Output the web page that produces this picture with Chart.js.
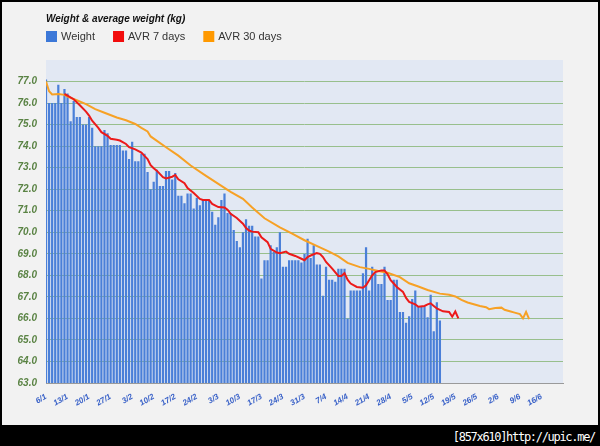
<!DOCTYPE html>
<html>
<head>
<meta charset="utf-8">
<title>Weight & average weight</title>
<script src="https://cdn.jsdelivr.net/npm/chart.js@4.4.0/dist/chart.umd.min.js"></script>
<style>
    html, body { margin: 0; padding: 0; background: #000; }
    body { width: 600px; height: 446px; position: relative; overflow: hidden; }
    #panel { position: absolute; left: 2px; top: 2px; width: 596px; height: 423px; background: #f2f2f2; }
    #stamp { position: absolute; right: 5px; bottom: 2px; color: #fff; font: 12px 'DejaVu Sans Mono', monospace; letter-spacing: -1.3px; }
</style>
</head>
<body>
<div id="panel"><canvas id="canvasSingle" width="596" height="423"></canvas></div>
<div id="stamp">[857x610]http://upic.me/</div>
<script>
// weekly tick labels, one every 7 days starting on 6/1
const tickLabels = ['6/1', '13/1', '20/1', '27/1', '3/2', '10/2', '17/2', '24/2', '3/3', '10/3', '17/3', '24/3',
    '31/3', '7/4', '14/4', '21/4', '28/4', '5/5', '12/5', '19/5', '26/5', '2/6', '9/6', '16/6'];

// daily weight, day 0 = 6/1
const weight = [
    77.1, 76.0, 76.0, 76.0, 76.85, 76.0, 76.65, 76.45, 75.15, 76.1,
    75.35, 75.35, 75.0, 75.0, 75.35, 74.85, 74.0, 74.0, 74.0, 74.75,
    74.6, 74.05, 74.05, 74.05, 74.05, 73.8, 73.8, 73.4, 74.2, 73.3,
    73.3, 73.65, 73.65, 72.8, 72.0, 72.35, 72.9, 72.15, 72.15, 72.85,
    72.85, 72.45, 72.75, 71.7, 71.7, 71.35, 71.8, 71.8, 71.1, 71.6,
    71.25, 71.5, 71.5, 71.5, 70.95, 70.35, 70.7, 71.5, 71.8, 70.9,
    70.9, 70.1, 69.6, 69.3, 70.0, 70.6, 70.3, 70.3, 69.8, 69.8,
    67.85, 68.7, 68.7, 69.4, 69.1, 69.3, 70.0, 68.4, 68.4, 68.7,
    68.7, 68.7, 68.7, 68.6, 69.0, 69.7, 68.8, 69.4, 68.5, 68.5,
    67.05, 68.4, 67.8, 67.8, 67.7, 68.3, 68.3, 68.3, 66.0, 67.3,
    67.3, 67.3, 67.3, 68.1, 69.3, 67.3, 68.4, 68.1, 67.6, 67.6,
    68.4, 66.85, 66.85, 67.8, 67.8, 66.3, 66.3, 65.8, 66.1, 66.9,
    67.3, 66.55, 66.55, 66.55, 66.05, 67.1, 65.4, 66.75, 65.9
];

// AVR 7 days (day, kg)
const avr7Days = [6, 7, 9, 11, 13, 14, 15, 17, 18, 20, 21, 23, 24, 26, 27, 29, 31, 32, 33, 34, 35, 36, 38, 39,
    41, 42, 43, 45, 46, 48, 50, 51, 53, 54, 56, 58, 59, 60, 62, 64, 65, 66, 67, 69, 70, 72, 73, 75, 76, 78, 79,
    81, 83, 84, 85, 86, 88, 89, 90, 91, 93, 95, 96, 97, 98, 99, 101, 103, 104, 105, 106, 107, 109, 110, 111,
    112, 113, 114, 116, 117, 118, 120, 121, 123, 124, 125, 126, 127, 129, 131, 132, 133, 134];
const avr7 = [76.42, 76.35, 76.18, 75.9, 75.6, 75.42, 75.18, 74.85, 74.65, 74.48, 74.34, 74.3, 74.26, 74.1, 73.95,
    73.85, 73.7, 73.55, 73.4, 73.12, 72.97, 72.86, 72.56, 72.5, 72.58, 72.66, 72.46, 72.28, 72.05, 71.82, 71.55,
    71.5, 71.5, 71.32, 71.17, 71.15, 71.05, 70.86, 70.66, 70.4, 70.2, 70.08, 70.03, 70.0, 69.77, 69.54, 69.23,
    69.06, 69.03, 69.1, 69.0, 68.9, 68.77, 68.7, 68.85, 68.92, 69.03, 69.0, 68.85, 68.62, 68.31, 67.97, 67.97,
    68.1, 67.8, 67.62, 67.46, 67.42, 67.54, 67.77, 68.0, 68.15, 68.23, 68.23, 68.05, 67.77, 67.62, 67.46, 67.23,
    66.95, 66.77, 66.65, 66.54, 66.58, 66.65, 66.7, 66.58, 66.46, 66.33, 66.3, 66.08, 66.32, 66.0];

// AVR 30 days (day, kg)
const avr30Days = [0, 1, 2, 4, 6, 7, 10, 13, 16, 19, 23, 26, 29, 31, 33, 34, 39, 43, 47, 52, 56, 60, 64, 67, 71,
    76, 80, 84, 89, 92, 95, 98, 102, 105, 108, 111, 115, 118, 121, 124, 128, 131, 133, 135, 137, 139, 141, 143,
    144, 146, 148, 149, 151, 152, 154, 155, 156, 157];
const avr30 = [77.0, 76.55, 76.4, 76.42, 76.38, 76.3, 76.13, 75.95, 75.72, 75.55, 75.33, 75.2, 75.03, 74.85, 74.68,
    74.45, 73.95, 73.56, 73.1, 72.62, 72.25, 71.88, 71.55, 71.15, 70.65, 70.23, 69.94, 69.63, 69.3, 69.1, 68.88,
    68.58, 68.38, 68.3, 68.2, 68.12, 67.92, 67.63, 67.48, 67.32, 67.15, 67.1, 67.02, 66.86, 66.74, 66.66, 66.58,
    66.52, 66.43, 66.48, 66.5, 66.4, 66.32, 66.28, 66.2, 66.0, 66.3, 65.97];

const chartTitle = 'Weight & average weight (kg)';

// plot background + title and legend laid out like the original
const headerPlugin = {
    id: 'header',
    beforeDraw(chart) {
        const {ctx, chartArea} = chart;
        ctx.save();
        ctx.fillStyle = '#e2e8f3';
        ctx.fillRect(chartArea.left, chartArea.top, chartArea.right - chartArea.left, chartArea.bottom - chartArea.top);
        ctx.restore();
    },
    afterDraw(chart) {
        const ctx = chart.ctx;
        const left = chart.chartArea.left;
        ctx.save();
        ctx.fillStyle = '#111';
        ctx.font = 'italic bold 10px "Liberation Sans", Arial, sans-serif';
        ctx.textBaseline = 'alphabetic';
        ctx.fillText(chartTitle, left, 20);

        ctx.font = '11px "Liberation Sans", Arial, sans-serif';
        ctx.textBaseline = 'middle';
        let x = left;
        chart.data.datasets.forEach(ds => {
            ctx.fillStyle = ds.legendColor;
            ctx.fillRect(x, 29, 11, 11);
            ctx.fillStyle = '#333';
            ctx.fillText(ds.label, x + 15, 35);
            x += 15 + ctx.measureText(ds.label).width + 18;
        });
        ctx.restore();
    }
};

const config = {
    data: {
        datasets: [{
            type: 'bar',
            label: 'Weight',
            legendColor: '#3c78d8',
            data: weight.map((w, i) => ({x: i, y: w})),
            backgroundColor: '#4a7fd8',
            categoryPercentage: 1,
            barPercentage: 0.72,
            order: 3
        }, {
            type: 'line',
            label: 'AVR 7 days',
            legendColor: '#f20c0c',
            data: avr7Days.map((d, i) => ({x: d, y: avr7[i]})),
            borderColor: '#ec1a1a',
            borderWidth: 2,
            pointRadius: 0,
            order: 1
        }, {
            type: 'line',
            label: 'AVR 30 days',
            legendColor: '#ff9900',
            data: avr30Days.map((d, i) => ({x: d, y: avr30[i]})),
            borderColor: '#f7a125',
            borderWidth: 2,
            pointRadius: 0,
            order: 2
        }]
    },
    options: {
        responsive: false,
        animation: false,
        layout: {
            padding: {left: 0, right: 35, top: 58, bottom: 0}
        },
        plugins: {
            title: {display: false},
            legend: {display: false},
            tooltip: {enabled: false}
        },
        scales: {
            x: {
                type: 'linear',
                offset: false,
                min: 0,
                max: 168,
                afterFit: function (scale) {
                    scale.height = 42;
                },
                grid: {display: false, offset: false},
                border: {color: '#9a9a9a'},
                ticks: {
                    stepSize: 7,
                    autoSkip: false,
                    maxRotation: 30,
                    minRotation: 30,
                    padding: 1,
                    color: '#3a62c8',
                    font: {family: '"Liberation Sans", Arial, sans-serif', size: 8, style: 'italic', weight: 'bold'},
                    callback: function (value, index) {
                        return tickLabels[index] || '';
                    }
                }
            },
            y: {
                min: 63,
                max: 78,
                afterFit: function (scale) {
                    scale.width = 44;
                },
                border: {display: false},
                grid: {
                    drawTicks: false,
                    color: function (context) {
                        return context.tick.value === 78 ? 'rgba(0,0,0,0)' : '#98bf8c';
                    }
                },
                ticks: {
                    stepSize: 1,
                    padding: 9,
                    color: '#5a8344',
                    font: {family: '"Liberation Sans", Arial, sans-serif', size: 10, style: 'italic', weight: 'bold'},
                    callback: function (value) {
                        return value === 78 ? '' : value.toFixed(1);
                    }
                }
            }
        }
    },
    plugins: [headerPlugin]
};

document.addEventListener('DOMContentLoaded', function () {
    new Chart(document.getElementById('canvasSingle'), config);
});
</script>
</body>
</html>
